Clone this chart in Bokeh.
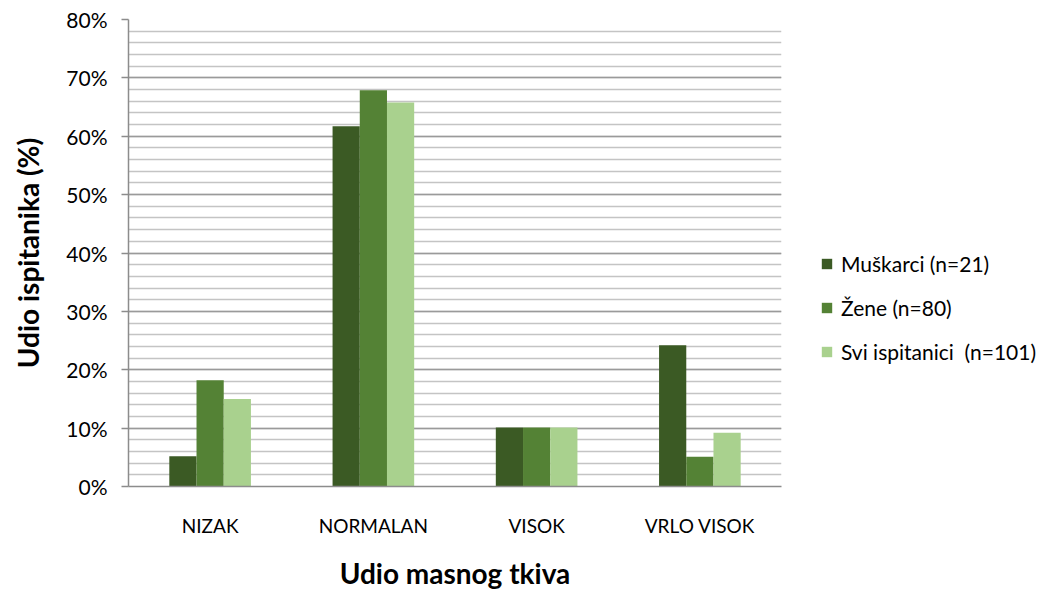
from bokeh.plotting import figure
from bokeh.models import (FactorRange, Range1d, FixedTicker, PrintfTickFormatter,
                          ColumnDataSource, Legend, LegendItem)
from bokeh.layouts import row
from bokeh.transform import dodge
from bokeh.embed import file_html
from bokeh.resources import INLINE

categories = ["NIZAK", "NORMALAN", "VISOK", "VRLO VISOK"]
series = ["Muškarci (n=21)", "Žene (n=80)", "Svi ispitanici  (n=101)"]
muskarci = [5.2, 61.7, 10.1, 24.2]
zene = [18.2, 67.9, 10.1, 5.1]
svi = [15.0, 65.8, 10.1, 9.2]
colors = ["#3B5A24", "#548235", "#A9D18E"]
y_ticks = [0, 10, 20, 30, 40, 50, 60, 70, 80]
y_minor = list(range(0, 81, 2))

FONT = "Lato"
H = 592

src = ColumnDataSource(dict(cat=categories, m=muskarci, z=zene, s=svi))

p = figure(width=800, height=H, x_range=FactorRange(*categories),
           y_range=Range1d(0, 80), output_backend="svg", toolbar_location=None,
           min_border_left=128, min_border_right=19, min_border_top=19,
           min_border_bottom=105)
p.outline_line_color = None

bw = 1 / 6
for col, off, c in zip(["m", "z", "s"], [-bw, 0, bw], colors):
    p.vbar(x=dodge("cat", off, range=p.x_range), top=col, width=bw,
           source=src, fill_color=c, line_color=None)

# grid
p.xgrid.grid_line_color = None
p.ygrid.ticker = FixedTicker(ticks=y_ticks, minor_ticks=y_minor)
p.ygrid.grid_line_color = "#9A9A9A"
p.ygrid.grid_line_width = 1.5
p.ygrid.minor_grid_line_color = "#C4C4C4"
p.ygrid.minor_grid_line_width = 1.5

# y axis
p.yaxis.ticker = FixedTicker(ticks=y_ticks, minor_ticks=y_minor)
p.yaxis.formatter = PrintfTickFormatter(format="%d%%")
p.yaxis.axis_line_color = "#8C8C8C"
p.yaxis.axis_line_width = 1.5
p.yaxis.major_tick_line_color = "#8C8C8C"
p.yaxis.major_tick_line_width = 1.5
p.yaxis.major_tick_out = 7
p.yaxis.major_tick_in = 0
p.yaxis.minor_tick_line_color = None
p.yaxis.major_label_text_font = FONT
p.yaxis.major_label_text_font_size = "21px"
p.yaxis.major_label_text_color = "#000000"
p.yaxis.major_label_standoff = 14
p.yaxis.axis_label = "Udio ispitanika (%)"
p.yaxis.axis_label_text_font = FONT
p.yaxis.axis_label_text_font_style = "bold"
p.yaxis.axis_label_text_font_size = "28px"
p.yaxis.axis_label_text_color = "#000000"
p.yaxis.axis_label_standoff = 18

# x axis
p.xaxis.axis_line_color = "#8C8C8C"
p.xaxis.axis_line_width = 1.5
p.xaxis.major_tick_line_color = None
p.xaxis.minor_tick_line_color = None
p.xaxis.major_label_text_font = FONT
p.xaxis.major_label_text_font_size = "19px"
p.xaxis.major_label_text_color = "#000000"
p.xaxis.major_label_standoff = 21
p.xaxis.axis_label = "Udio masnog tkiva"
p.xaxis.axis_label_text_font = FONT
p.xaxis.axis_label_text_font_style = "bold"
p.xaxis.axis_label_text_font_size = "28px"
p.xaxis.axis_label_text_color = "#000000"
p.xaxis.axis_label_standoff = 16

# legend panel
nan = float("nan")
lf = figure(width=243, height=H, x_range=Range1d(0, 1), y_range=Range1d(0, 1),
            x_axis_type=None, y_axis_type=None, output_backend="svg",
            toolbar_location=None, min_border=0)
lf.outline_line_color = None
lf.xgrid.grid_line_color = None
lf.ygrid.grid_line_color = None
dummies = []
for c in colors:
    dummies.append(lf.vbar(x=[nan], top=[nan], width=0.1, fill_color=c, line_color=None))

legend = Legend(items=[LegendItem(label=s, renderers=[r]) for s, r in zip(series, dummies)],
                location=(20, 122))
legend.label_text_font = FONT
legend.label_text_font_size = "21px"
legend.label_text_color = "#000000"
legend.glyph_width = 13
legend.glyph_height = 13
legend.label_standoff = 8
legend.spacing = 19
legend.padding = 5
legend.margin = 0
legend.border_line_color = None
legend.background_fill_alpha = 0
lf.add_layout(legend, "center")

open("out.html", "w").write(file_html(row(p, lf), INLINE))
